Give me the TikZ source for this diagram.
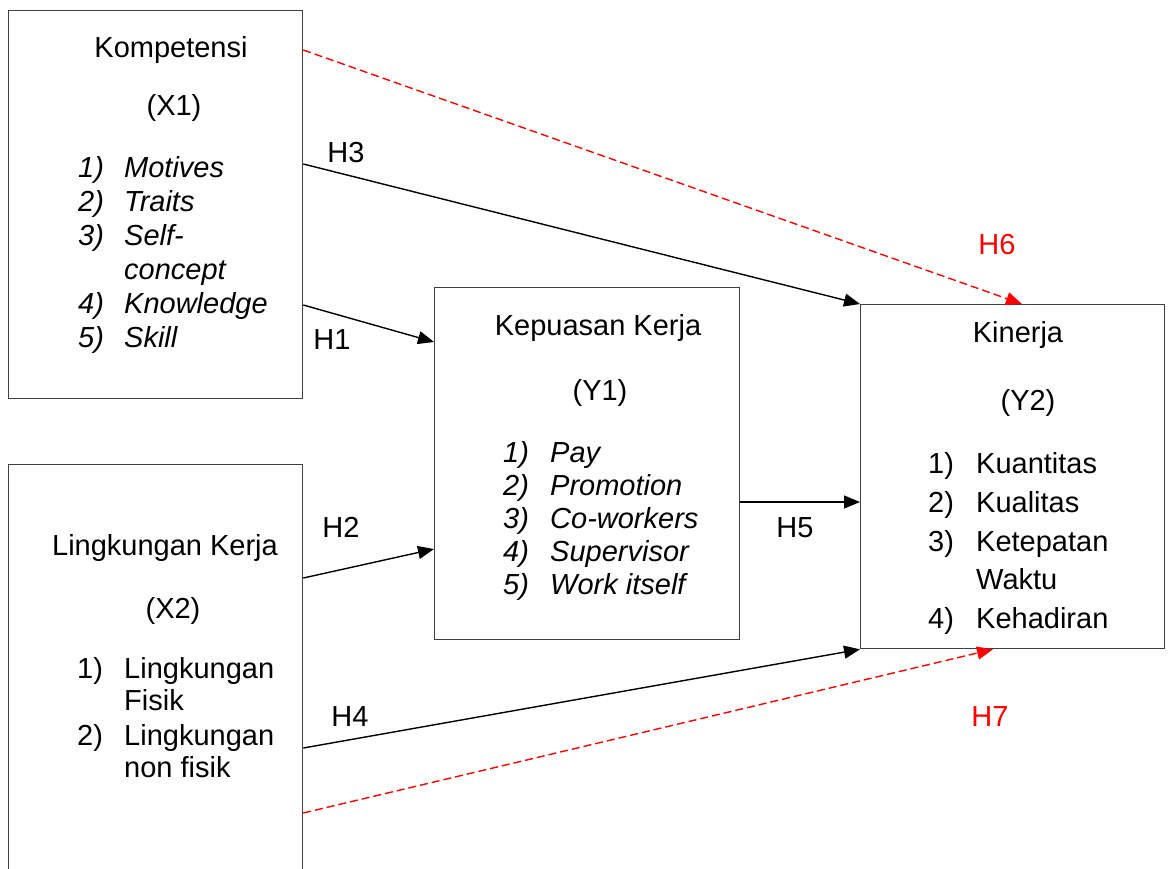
\documentclass[tikz,border=0pt]{standalone}
\usepackage{fontspec}
\setmainfont{Liberation Sans}
\usetikzlibrary{arrows.meta}
\begin{document}
\begin{tikzpicture}[x=1pt,y=-1pt,
 box/.style={draw=black!75, line width=1.3pt, rectangle, inner sep=0pt, anchor=north west},
 txt/.style={inner sep=0pt, anchor=base, font=\fontsize{29}{34}\selectfont},
 lft/.style={txt, anchor=base west},
 itl/.style={lft, font=\fontsize{29}{34}\selectfont\itshape},
 arr/.style={line width=1.4pt, -{Triangle[length=16pt,width=13pt]}},
 redarr/.style={arr, red, dash pattern=on 8pt off 4pt},
 hlab/.style={txt},
 redlab/.style={txt, text=red},
]
\useasboundingbox (0,0) rectangle (1168,868);
% boxes
\node[box, minimum width=294pt, minimum height=388pt] (x1) at (8,10) {};
\node[box, minimum width=294pt, minimum height=420pt] (x2) at (8,464) {};
\node[box, minimum width=305pt, minimum height=352pt] (y1) at (434,287) {};
\node[box, minimum width=304pt, minimum height=344pt] (y2) at (860,304) {};
% X1 text
\node[txt] (x1t) at (171,57) {Kompetensi};
\node[txt] (x1c) at (174,115) {(X1)};
\node[itl] (x1n1) at (78,177) {1)};  \node[itl] (x1i1) at (124,177) {Motives};
\node[itl] (x1n2) at (78,211) {2)};  \node[itl] (x1i2) at (124,211) {Traits};
\node[itl] (x1n3) at (78,245) {3)};  \node[itl] (x1i3) at (124,245) {Self-};
\node[itl] (x1i3b) at (124,279) {concept};
\node[itl] (x1n4) at (78,313) {4)};  \node[itl] (x1i4) at (124,313) {Knowledge};
\node[itl] (x1n5) at (78,347) {5)};  \node[itl] (x1i5) at (124,347) {Skill};
% X2 text
\node[txt] (x2t) at (165,555) {Lingkungan Kerja};
\node[txt] (x2c) at (173,618) {(X2)};
\node[lft] (x2n1) at (77,678) {1)};  \node[lft] (x2i1) at (124,678) {Lingkungan};
\node[lft] (x2i1b) at (124,710) {Fisik};
\node[lft] (x2n2) at (77,745) {2)};  \node[lft] (x2i2) at (124,745) {Lingkungan};
\node[lft] (x2i2b) at (124,777) {non fisik};
% Y1 text
\node[txt] (y1t) at (598,335) {Kepuasan Kerja};
\node[txt] (y1c) at (600,400) {(Y1)};
\node[itl] (y1n1) at (503,462) {1)};  \node[itl] (y1i1) at (550,462) {Pay};
\node[itl] (y1n2) at (503,495) {2)};  \node[itl] (y1i2) at (550,495) {Promotion};
\node[itl] (y1n3) at (503,528) {3)};  \node[itl] (y1i3) at (550,528) {Co-workers};
\node[itl] (y1n4) at (503,561) {4)};  \node[itl] (y1i4) at (550,561) {Supervisor};
\node[itl] (y1n5) at (503,594) {5)};  \node[itl] (y1i5) at (550,594) {Work itself};
% Y2 text
\node[txt] (y2t) at (1018,342) {Kinerja};
\node[txt] (y2c) at (1028,410) {(Y2)};
\node[lft] (y2n1) at (928,473) {1)};  \node[lft] (y2i1) at (976,473) {Kuantitas};
\node[lft] (y2n2) at (928,512) {2)};  \node[lft] (y2i2) at (976,512) {Kualitas};
\node[lft] (y2n3) at (928,551) {3)};  \node[lft] (y2i3) at (976,551) {Ketepatan};
\node[lft] (y2i3b) at (976,589) {Waktu};
\node[lft] (y2n4) at (928,628) {4)};  \node[lft] (y2i4) at (976,628) {Kehadiran};
% connectors
\draw[redarr] (x1.east |- 0,50) -- (y2.north -| 1022,0);
\draw[arr] (x1.east |- 0,164) -- (y2.north west);
\draw[arr] (x1.east |- 0,305) -- (y1.west |- 0,342);
\draw[arr] (x2.east |- 0,578) -- (y1.west |- 0,549);
\draw[arr] (y1.east |- 0,502) -- (y2.west |- 0,502);
\draw[arr] (x2.east |- 0,748) -- (y2.south west);
\draw[redarr] (x2.east |- 0,813) -- (y2.south -| 993,0);
% labels
\node[hlab] (h3) at (346,162) {H3};
\node[hlab] (h1) at (332,349) {H1};
\node[hlab] (h2) at (341,537) {H2};
\node[hlab] (h5) at (795,537) {H5};
\node[hlab] (h4) at (350,726) {H4};
\node[redlab] (h6) at (997,254) {H6};
\node[redlab] (h7) at (990,726) {H7};
\end{tikzpicture}
\end{document}
